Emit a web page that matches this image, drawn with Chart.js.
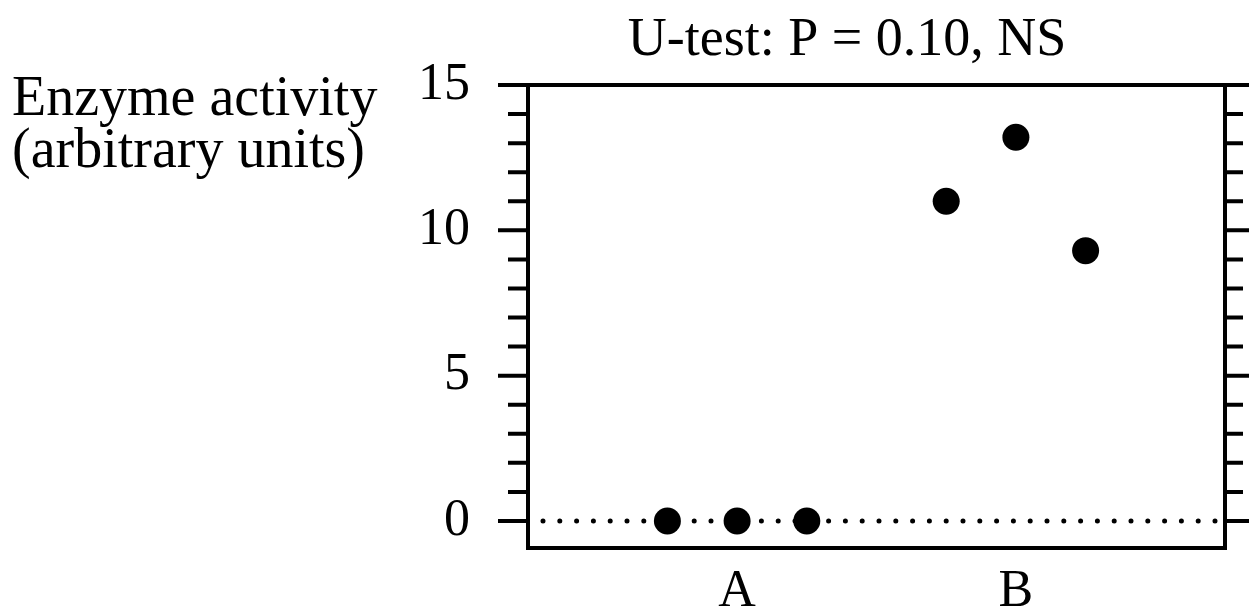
<!DOCTYPE html>
<html><head><meta charset="utf-8">
<script src="https://cdn.jsdelivr.net/npm/chart.js@4.4.0/dist/chart.umd.min.js"></script>
<style>html,body{margin:0;padding:0;background:#fff;overflow:hidden}canvas{display:block}</style>
</head><body>
<canvas id="c" width="1249" height="614"></canvas>
<script>
// ---- data ----
const categories = ['A', 'B'];
const groupA = [0, 0, 0];
const groupB = [11.0, 13.2, 9.3];
const jitter = [-0.25, 0, 0.25];
const yTicks = [0, 5, 10, 15];
const yMinorStep = 1;
const refLine = 0;
const titleText = 'U-test: P = 0.10, NS';
const yLabelLines = ['Enzyme activity', '(arbitrary units)'];

const FONT = "'Liberation Serif', 'Times New Roman', serif";

const pointsA = groupA.map((v, i) => ({ x: 1 + jitter[i], y: v }));
const pointsB = groupB.map((v, i) => ({ x: 2 + jitter[i], y: v }));

const framePlugin = {
  id: 'frame',
  beforeDatasetsDraw(chart) {
    const { ctx, chartArea: a, scales: { y } } = chart;
    const py = y.getPixelForValue(refLine);
    ctx.save();
    ctx.strokeStyle = '#000';
    ctx.lineWidth = 5;
    ctx.lineCap = 'round';
    ctx.setLineDash([0, 16.8]);
    ctx.lineDashOffset = 1.8;
    ctx.beginPath();
    ctx.moveTo(a.left, py);
    ctx.lineTo(a.right - 6, py);
    ctx.stroke();
    ctx.restore();
  },
  afterDraw(chart) {
    const { ctx, chartArea: a, scales: { y }, width } = chart;
    ctx.save();
    ctx.strokeStyle = '#000';
    ctx.lineWidth = 4;
    ctx.lineCap = 'butt';
    ctx.beginPath();
    ctx.moveTo(a.left, a.top);
    ctx.lineTo(a.left, a.bottom + 2);
    ctx.moveTo(a.left - 2, a.bottom);
    ctx.lineTo(a.right + 2, a.bottom);
    ctx.moveTo(a.right, a.bottom + 2);
    ctx.lineTo(a.right, a.top);
    ctx.moveTo(a.left, a.top);
    ctx.lineTo(a.right, a.top);
    ctx.stroke();
    ctx.beginPath();
    for (let v = Math.ceil(y.min); v <= y.max; v += yMinorStep) {
      const py = y.getPixelForValue(v);
      const major = yTicks.includes(v);
      ctx.moveTo(a.left - (major ? 30 : 20), py);
      ctx.lineTo(a.left, py);
      ctx.moveTo(a.right, py);
      ctx.lineTo(major ? width : a.right + 18, py);
    }
    ctx.stroke();
    ctx.fillStyle = '#000';
    ctx.font = '54px ' + FONT;
    ctx.textAlign = 'center';
    ctx.textBaseline = 'alphabetic';
    ctx.fillText(titleText, 847, 55);
    ctx.font = '56px ' + FONT;
    ctx.textAlign = 'left';
    ctx.fillText(yLabelLines[0], 12, 115);
    ctx.fillText(yLabelLines[1], 12, 167);
    ctx.restore();
  }
};

new Chart(document.getElementById('c'), {
  type: 'scatter',
  data: {
    datasets: [
      { label: categories[0], data: pointsA, backgroundColor: '#000', borderWidth: 0, pointRadius: 13.5, pointHoverRadius: 13.5 },
      { label: categories[1], data: pointsB, backgroundColor: '#000', borderWidth: 0, pointRadius: 13.5, pointHoverRadius: 13.5 }
    ]
  },
  options: {
    responsive: false,
    animation: false,
    events: [],
    layout: { padding: { top: 85, right: 24, left: 0, bottom: 0 } },
    plugins: { legend: { display: false }, tooltip: { enabled: false }, title: { display: false } },
    scales: {
      x: {
        type: 'linear', min: 0.25, max: 2.75,
        grid: { display: false, drawTicks: false },
        border: { display: false },
        afterBuildTicks: s => { s.ticks = categories.map((c, i) => ({ value: i + 1 })); },
        ticks: {
          callback: (v, i) => categories[i],
          font: { family: FONT, size: 52 }, color: '#000', padding: 13,
          autoSkip: false, maxRotation: 0, minRotation: 0
        },
        afterFit: s => { s.height = 66; }
      },
      y: {
        min: -0.93, max: 15,
        grid: { display: false, drawTicks: false },
        border: { display: false },
        afterBuildTicks: s => { s.ticks = yTicks.map(v => ({ value: v })); },
        ticks: {
          font: { family: FONT, size: 52 }, color: '#000', padding: 58, autoSkip: false
        },
        afterFit: s => { s.width = 528; s.paddingTop = 0; s.paddingBottom = 0; }
      }
    }
  },
  plugins: [framePlugin]
});
</script>
</body></html>
